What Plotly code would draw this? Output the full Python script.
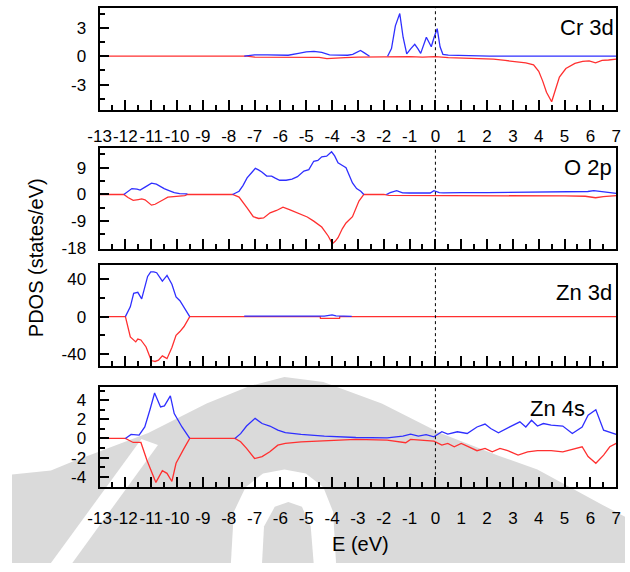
import plotly.graph_objects as go

# ---------------- data ----------------
# Cr 3d
cr_up_E = [-7.4, -7.3, -7.0, -6.5, -6.0, -5.7, -5.3, -5.0, -4.7, -4.4, -4.1, -3.8, -3.4, -3.2, -3.0, -2.9, -2.75, -2.55,
           None, -1.85, -1.7, -1.55, -1.38, -1.25, -1.11, -0.95, -0.8, -0.68, -0.57, -0.35, -0.16, -0.05, 0.07, 0.18, 0.29,
           0.5, 1.0, 1.5, 2.0, 2.1, 7.0]
cr_up = [0.0, 0.05, 0.15, 0.15, 0.1, 0.1, 0.3, 0.45, 0.5, 0.4, 0.15, 0.15, 0.1, 0.2, 0.5, 0.6, 0.35, 0.0,
         None, 0.0, 0.8, 3.2, 4.5, 2.0, 0.25, 0.8, 1.25, 0.8, 0.3, 2.0, 1.0, 2.0, 2.9, 1.0, 0.2,
         0.12, 0.1, 0.1, 0.05, 0.0, 0.0]
cr_dn_E = [-13, -7.3, -7.0, -5.0, -4.5, -4.2, -4.0, -3.5, -3.0, -2.0, -1.5, -1.0, -0.5, 0.0, 0.5, 1.0, 1.5, 2.0, 2.25,
           2.7, 3.15, 3.5, 3.8, 4.0, 4.15, 4.3, 4.5, 4.65, 4.8, 5.05, 5.4, 5.7, 5.95, 6.2, 6.45, 6.7, 7.0]
cr_dn = [0, 0, -0.1, -0.1, -0.12, -0.25, -0.2, -0.15, -0.1, -0.05, -0.1, -0.05, -0.1, -0.05, -0.15, -0.2, -0.2, -0.25, -0.3,
         -0.45, -0.6, -0.7, -0.9, -1.6, -2.6, -3.8, -4.8, -3.5, -2.2, -1.3, -0.75, -0.55, -0.5, -0.7, -0.45, -0.4, -0.3]

# O 2p
o_up_E = [-12.06, -11.9, -11.75, -11.55, -11.43, -11.24, -10.99, -10.8, -10.68, -10.5, -10.36, -10.11, -9.9, -9.6, None,
          -7.85, -7.6, -7.45, -7.29, -7.1, -6.97, -6.85, -6.72, -6.53, -6.34, -6.2, -6.03, -5.78, -5.55, -5.34, -5.2,
          -5.09, -4.9, -4.71, -4.55, -4.4, -4.21, -4.02, -3.9, -3.77, -3.6, -3.46, -3.21, -3.05, -2.89, -2.77, None,
          -1.9, -1.75, -1.5, -1.27, -1.0, -0.5, -0.2, -0.06, 0.15, 0.3, 0.5, 1.0, 2.0, 3.0, 4.0, 5.0, 5.6, 5.9, 6.13,
          6.4, 6.7, 7.0]
o_up = [0.0, 1.0, 2.0, 1.8, 1.5, 2.5, 3.8, 3.5, 2.8, 2.0, 1.5, 0.6, 0.3, 0.2, None,
        0.0, 1.1, 3.0, 5.6, 7.5, 8.8, 8.3, 7.6, 6.2, 6.2, 5.5, 4.8, 4.8, 5.2, 6.0, 7.0,
        7.9, 8.4, 11.2, 11.5, 12.7, 12.9, 14.4, 13.0, 10.7, 9.8, 9.0, 3.9, 2.0, 1.1, 0.0, None,
        0.0, 0.6, 1.3, 0.55, 0.5, 0.6, 0.5, 1.3, 0.6, 0.55, 0.6, 0.6, 0.65, 0.7, 0.7, 0.75, 0.8, 1.0, 1.3,
        1.0, 0.6, 0.4]
o_dn_E = [-13, -12.06, -11.9, -11.7, -11.5, -11.37, -11.24, -11.1, -10.99, -10.85, -10.68, -10.5, -10.36, -10.1, -9.7,
          -9.6, -7.85, -7.6, -7.45, -7.29, -7.05, -6.84, -6.65, -6.4, -6.15, -5.9, -5.65, -5.34, -4.96, -4.71, -4.4,
          -4.15, -3.99, -3.88, -3.77, -3.6, -3.46, -3.21, -2.96, -2.77, -2.0, -1.8, -1.0, 0.0, 0.5, 1.0, 2.0, 3.0, 4.0,
          5.0, 5.8, 6.2, 6.5, 7.0]
o_dn = [0, 0, -1.0, -2.0, -1.7, -1.5, -1.8, -2.8, -3.6, -3.3, -2.6, -1.6, -0.9, -0.6, -0.4,
        0, 0, -0.9, -2.5, -4.5, -7.5, -8.1, -7.9, -6.2, -5.4, -4.3, -5.1, -6.2, -7.6, -9.0, -11.0,
        -14.0, -16.6, -15.8, -14.6, -11.5, -9.6, -7.5, -2.2, 0.0, 0.0, -0.3, -0.3, -0.4, -0.5, -0.5, -0.5, -0.5, -0.5,
        -0.5, -0.6, -1.1, -0.7, -0.4]

# Zn 3d
zd_up_E = [-12.0, -11.81, -11.68, -11.52, -11.37, -11.25, -11.14, -11.02, -10.9, -10.79, -10.65, -10.57, -10.45, -10.39,
           -10.2, -10.04, -9.89, -9.73, -9.51, None, -7.4, -7.3, -4.3, -4.15, -4.0, -3.85, -3.3, -3.24]
zd_up = [0, 10.5, 25, 26, 19, 32, 43, 48, 48, 47, 41, 38, 42, 44,
         34.6, 21, 17, 10, 0, None, 0.5, 0.6, 0.6, 1.2, 1.8, 0.7, 0.6, 0.3]
zd_dn_E = [-13, -12.0, -11.81, -11.68, -11.6, -11.52, -11.4, -11.2, -11.0, -10.85, -10.72, -10.57, -10.39, -10.2,
           -10.04, -9.89, -9.73, -9.51, -4.46, -4.45, -3.71, -3.7, 7.0]
zd_dn = [0, 0, -21.7, -25, -27, -24, -25, -32.5, -47, -48, -46.6, -42, -45, -33,
         -20, -16, -10.6, 0, 0, -1.8, -1.8, 0, 0]

# Zn 4s
zs_up_E = [-12.0, -11.78, -11.47, -11.25, -11.05, -10.87, -10.64, -10.49, -10.26, -10.11, -9.81, -9.51, None,
           -7.76, -7.54, -7.31, -6.98, -6.71, -6.41, -6.1, -5.81, -5.2, -4.3, -3.08, -1.87, -1.26, -0.96, -0.66, -0.36,
           -0.06, 0.25, 0.48, 0.85, 1.23, 1.61, 1.92, 2.14, 2.44, 2.75, 3.05, 3.27, 3.5, 3.72, 3.95, 4.18, 4.48, 4.93,
           5.3, 5.68, 5.91, 6.21, 6.51, 6.89, 7.0]
zs_up = [0, 0.42, 0.35, 1.2, 3.0, 4.75, 3.3, 3.4, 4.45, 2.6, 1.2, 0, None,
         0, 0.5, 1.3, 2.1, 1.56, 1.3, 0.87, 0.6, 0.42, 0.25, 0.1, 0.07, 0.25, 0.45, 0.25, 0.4,
         0.17, 0.7, 0.45, 0.7, 0.52, 1.2, 1.5, 1.04, 0.6, 1.04, 1.5, 1.74, 1.2, 1.9, 1.3, 1.56, 1.4, 1.3,
         0.52, 1.2, 2.43, 3.0, 0.87, 0.52, 0.42]
zs_dn_E = [-13, -12.0, -11.7, -11.4, -11.17, -10.82, -10.57, -10.39, -10.2, -10.04, -9.73, -9.51, -7.76, -7.54, -7.31,
           -7.0, -6.71, -6.41, -6.1, -5.81, -5.2, -4.3, -3.08, -1.87, -1.26, -1.15, -0.96, -0.36, -0.06, 0.25, 0.48,
           0.73, 1.0, 1.23, 1.61, 1.92, 2.2, 2.5, 2.8, 3.2, 3.57, 3.95, 4.48, 4.93, 5.38, 5.68, 5.91, 6.21, 6.51, 6.75,
           7.0]
zs_dn = [0, 0, -0.42, -0.42, -2.26, -4.6, -3.37, -3.65, -4.5, -2.6, -1.04, 0, 0, -0.35, -1.04,
         -2.1, -1.9, -1.4, -0.7, -0.52, -0.35, -0.24, -0.1, -0.17, -0.35, -0.45, -0.1, -0.17, -0.28, -0.7, -0.52,
         -0.87, -0.52, -0.8, -1.28, -1.04, -1.4, -1.04, -1.28, -1.74, -1.4, -1.28, -1.28, -1.4, -1.04, -0.87, -1.9,
         -2.6, -1.74, -0.87, -0.52]

panel_names = ["Cr 3d", "O 2p", "Zn 3d", "Zn 4s"]
y_ranges = [[-5.7, 5.1], [-18.3, 15.8], [-53, 55.5], [-5.1, 5.4]]
y_dticks = [3, 9, 40, 2]
y_tick_vals = [[-3, 0, 3], [-18, -9, 0, 9], [-40, 0, 40], [-4, -2, 0, 2, 4]]
y_tick_text = [["-3", "0", "3"], ["-18", "-9", "0", "9"], ["-40", "0", "40"], ["-4", "-2", "0", "2", "4"]]
x_range = [-13, 7]
x_tick_vals = [-13, -12, -11, -10, -9, -8, -7, -6, -5, -4, -3, -2, -1, 0, 1, 2, 3, 4, 5, 6, 7]
x_tick_text = ["-13", "-12", "-11", "-10", "-9", "-8", "-7", "-6", "-5", "-4", "-3", "-2", "-1",
               "0", "1", "2", "3", "4", "5", "6", "7"]

series = [
    (cr_up_E, cr_up, cr_dn_E, cr_dn),
    (o_up_E, o_up, o_dn_E, o_dn),
    (zd_up_E, zd_up, zd_dn_E, zd_dn),
    (zs_up_E, zs_up, zs_dn_E, zs_dn),
]

# ---------------- layout geometry ----------------
W, H = 630, 572
panel_px = [(8, 112), (150, 252.7), (269, 372), (393, 495)]
label_pos = [(621, 28), (619, 170), (619, 297), (591, 415)]
x_standoff = [9, 8, 8, 14]
BLUE = "#2f2fff"
RED = "#ff3030"
FONT = "Liberation Sans, Arial, sans-serif"
WM_GREY = "#dadada"

# background watermark outline (pixel coordinates of the page, y down)
wm_outer = [(0, 572), (0, 482), (40, 478), (60, 470), (100, 455), (140, 440), (200, 410), (245, 392), (280, 383),
            (320, 388), (380, 410), (440, 440), (500, 463), (540, 477), (607, 513), (630, 525), (630, 572)]
wm_white_arch = [(225, 572), (228, 520), (240, 495), (258, 481), (280, 477), (302, 481), (320, 495), (330, 520),
                 (333, 572)]
wm_inner_grey = [(257, 572), (259, 535), (270, 515), (284, 510), (298, 515), (307, 535), (310, 572)]
wm_left_band = [(40, 572), (62, 572), (150, 452), (133, 446)]


def px_path(points):
    return "M " + " L ".join(f"{x / W:.4f},{1 - y / H:.4f}" for x, y in points) + " Z"


fig = go.Figure()
layout = dict(
    width=W, height=H, margin=dict(l=0, r=0, t=0, b=0),
    paper_bgcolor="white", plot_bgcolor="rgba(0,0,0,0)", showlegend=False,
    font=dict(family=FONT, color="black"),
)

for pts, col in [(wm_outer, WM_GREY), (wm_white_arch, "white"), (wm_inner_grey, WM_GREY), (wm_left_band, "white")]:
    fig.add_shape(type="path", path=px_path(pts), xref="paper", yref="paper",
                  fillcolor=col, line=dict(width=0), layer="below")

for i, (name, yr, dt, (ue, uv, de, dv), (top, bot)) in enumerate(
        zip(panel_names, y_ranges, y_dticks, series, panel_px)):
    n = "" if i == 0 else str(i + 1)
    xa, ya = "x" + n, "y" + n
    fig.add_trace(go.Scatter(x=de, y=dv, mode="lines", line=dict(color=RED, width=1.3),
                             xaxis=xa, yaxis=ya, connectgaps=False, hoverinfo="skip"))
    fig.add_trace(go.Scatter(x=ue, y=uv, mode="lines", line=dict(color=BLUE, width=1.3),
                             xaxis=xa, yaxis=ya, connectgaps=False, hoverinfo="skip"))
    layout["xaxis" + n] = dict(
        domain=[90 / W, 621 / W], anchor=ya, range=x_range,
        tickmode="array", tickvals=x_tick_vals, ticktext=x_tick_text,
        ticks="inside", ticklen=10, tickwidth=1.5, tickcolor="black",
        minor=dict(dtick=0.5, tick0=0, ticks="inside", ticklen=5, tickwidth=1.5, tickcolor="black"),
        showline=True, linecolor="black", linewidth=2, mirror=True,
        showgrid=False, zeroline=False, tickangle=0,
        showticklabels=(i in (0, 3)), ticklabelstandoff=x_standoff[i],
        tickfont=dict(size=17, family=FONT, color="black"),
    )
    layout["yaxis" + n] = dict(
        domain=[1 - bot / H, 1 - top / H], anchor=xa, range=yr,
        tickmode="array", tickvals=y_tick_vals[i], ticktext=y_tick_text[i],
        ticks="inside", ticklen=9, tickwidth=1.5, tickcolor="black",
        minor=dict(dtick=dt / 2, tick0=0, ticks="inside", ticklen=5, tickwidth=1.5, tickcolor="black"),
        showline=True, linecolor="black", linewidth=2, mirror=True,
        showgrid=False, zeroline=False, ticklabelstandoff=8,
        tickfont=dict(size=17, family=FONT, color="black"),
    )
    fig.add_shape(type="line", xref=xa, yref=ya + " domain", x0=0, x1=0, y0=0, y1=1,
                  line=dict(color="black", width=1, dash="dot"))
    lx, ly = label_pos[i]
    fig.add_annotation(text=name, xref="paper", yref="paper", x=lx / W, y=1 - ly / H,
                       xanchor="right", yanchor="middle", showarrow=False,
                       font=dict(size=22, family=FONT, color="black"))

fig.add_annotation(text="PDOS (states/eV)", xref="paper", yref="paper", x=25 / W, y=1 - 262 / H,
                   textangle=-90, xanchor="center", yanchor="middle", showarrow=False,
                   font=dict(size=20, family=FONT, color="black"))
fig.add_annotation(text="E (eV)", xref="paper", yref="paper", x=358 / W, y=1 - 553 / H,
                   xanchor="center", yanchor="middle", showarrow=False,
                   font=dict(size=20, family=FONT, color="black"))

fig.update_layout(**layout)
fig.write_html("out.html")
